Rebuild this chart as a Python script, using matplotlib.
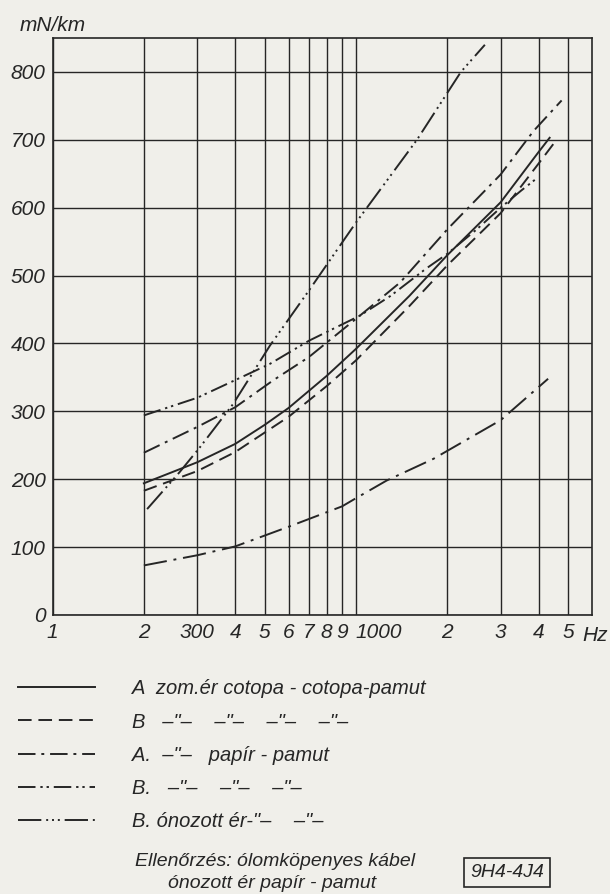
import matplotlib
matplotlib.use("Agg")
import matplotlib.pyplot as plt

# values (frequency in Hz, attenuation in mN/km)
solid_f = [200, 300, 400, 500, 600, 800, 1000, 1500, 2000, 3000, 4000, 4350]
solid_v = [194, 225, 252, 280, 305, 352, 392, 470, 530, 608, 682, 703]

dashed_f = [200, 300, 400, 600, 800, 1000, 1500, 2000, 3000, 4000, 4530]
dashed_v = [183, 212, 240, 292, 337, 375, 455, 515, 592, 665, 697]

dashdot_f = [200, 300, 400, 535, 700, 1031, 1400, 2000, 3000, 3850, 4764]
dashdot_v = [239, 277, 306, 346, 380, 441, 490, 568, 649, 713, 758]

dashdotdot_f = [200, 300, 400, 521, 700, 1031, 1300, 1700, 2000, 2500, 3000, 3500, 3990]
dashdotdot_v = [294, 320, 346, 370, 404, 441, 470, 510, 532, 568, 600, 625, 645]

tinned_f = [205, 263, 306, 394, 521, 700, 1000, 1589, 2218, 2661]
tinned_v = [156, 211, 247, 311, 397, 478, 578, 700, 800, 840]

control_f = [200, 300, 400, 600, 900, 1000, 1262, 1800, 3000, 4300]
control_v = [73, 88, 101, 130, 160, 172, 198, 230, 287, 348]

x_ticks = [100, 200, 300, 400, 500, 600, 700, 800, 900,
           1000, 2000, 3000, 4000, 5000]
x_labels = ["1", "2", "300", "4", "5", "6", "7", "8", "9",
            "1000", "2", "3", "4", "5"]
y_ticks = [0, 100, 200, 300, 400, 500, 600, 700, 800]

legend_labels = [
    "A  zom.ér cotopa - cotopa-pamut",
    'B   –"–    –"–    –"–    –"–',
    'A.  –"–   papír - pamut',
    'B.   –"–    –"–    –"–',
    'B. ónozott ér-"–    –"–',
]

INK = "#262626"
PAPER = "#f0efea"

plt.rcParams["font.family"] = ["Liberation Sans", "DejaVu Sans"]
plt.rcParams["font.style"] = "italic"
plt.rcParams["font.size"] = 14

fig = plt.figure(figsize=(6.10, 8.94), dpi=100, facecolor=PAPER)
ax = fig.add_axes([0.0861, 0.3121, 0.8844, 0.6454])
ax.set_facecolor(PAPER)

lw = 1.4
h1, = ax.plot(solid_f, solid_v, color=INK, lw=lw, ls="-")
h2, = ax.plot(dashed_f, dashed_v, color=INK, lw=lw, ls=(0, (7, 3.5)))
h3, = ax.plot(dashdot_f, dashdot_v, color=INK, lw=lw, ls=(0, (9, 3, 1.5, 3)))
h4, = ax.plot(dashdotdot_f, dashdotdot_v, color=INK, lw=lw,
              ls=(0, (9, 2.5, 1.2, 2, 1.2, 2.5)))
h5, = ax.plot(tinned_f, tinned_v, color=INK, lw=lw,
              ls=(0, (12, 2.5, 1, 2, 1, 2, 1, 2.5)))
ax.plot(control_f, control_v, color=INK, lw=lw, ls=(0, (12, 3.5, 1.5, 3.5)))

ax.set_xscale("log")
ax.set_xlim(100, 6000)
ax.set_ylim(0, 850)
ax.set_xticks(x_ticks, x_labels)
ax.xaxis.set_minor_locator(matplotlib.ticker.NullLocator())
ax.set_yticks(y_ticks)
for lbl in ax.get_xticklabels():
    if lbl.get_text() == "1000":
        lbl.set_horizontalalignment("left")
ax.tick_params(length=0, colors=INK, labelsize=15)
ax.tick_params(axis="x", pad=6)
ax.tick_params(axis="y", pad=5)
ax.grid(True, color=INK, lw=1.0)
for sp in ax.spines.values():
    sp.set_color(INK)
    sp.set_linewidth(1.2)

ax.text(0.983, -0.036, "Hz", transform=ax.transAxes, ha="left", va="center",
        color=INK, fontsize=15)
fig.text(0.033, 0.972, "mN/km", ha="left", va="center", color=INK, fontsize=15)

fig.legend([h1, h2, h3, h4, h5], legend_labels, loc="upper left",
           bbox_to_anchor=(0.03, 0.240), frameon=False, fontsize=14.5,
           handlelength=3.8, handletextpad=1.85, labelspacing=0.7,
           borderpad=0, borderaxespad=0, labelcolor=INK)

fig.text(0.222, 0.036, "Ellenőrzés: ólomköpenyes kábel", ha="left",
         va="center", color=INK, fontsize=14)
fig.text(0.276, 0.012, "ónozott ér papír - pamut", ha="left", va="center",
         color=INK, fontsize=14)
fig.text(0.831, 0.024, "9H4-4J4", ha="center", va="center", color=INK,
         fontsize=14,
         bbox=dict(boxstyle="square,pad=0.3", fc="none", ec=INK, lw=1.2))

fig.savefig("out.png", dpi=100, facecolor=PAPER)
